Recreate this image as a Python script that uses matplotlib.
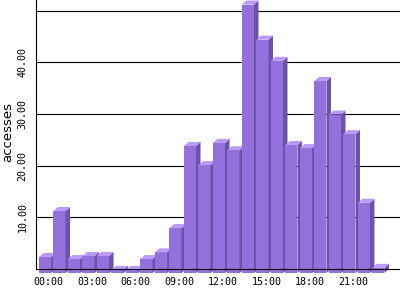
"""Hourly accesses bar chart with a flat 3D look."""

import matplotlib

matplotlib.use("Agg")
from matplotlib import pyplot as plt
from matplotlib.patches import Polygon

hours = [f"{h:02d}:00" for h in range(24)]
accesses = [3.1, 12.0, 2.7, 3.3, 3.3, 0.6, 0.6, 2.7, 4.0, 8.7, 24.6, 20.9,
            25.2, 23.8, 52.0, 45.2, 41.1, 24.8, 24.2, 37.2, 30.7, 26.9, 13.6, 1.0]
ytick_values = [10, 20, 30, 40, 50]
ytick_labels = ["10.00", "20.00", "30.00", "40.00", ""]

FRONT = "#9370db"
TOP = "#bb99fa"
SIDE = "#6a53a8"


def _main() -> None:
    fig = plt.figure(figsize=(4, 3), dpi=100)
    ax = fig.add_axes([36 / 400, 31 / 300, 364 / 400, 269 / 300])
    ax.set_xlim(-0.207, 24.9)
    ax.set_ylim(0, 52.1)

    width = 0.83
    dx = 0.31
    dy = 0.78
    for i, val in enumerate(accesses):
        ax.bar(i, val, width=width, bottom=-dy, align="edge", color=FRONT,
               linewidth=0, clip_on=False, zorder=1)
        side = Polygon([(i + width, -dy), (i + width + dx, 0),
                        (i + width + dx, val), (i + width, val - dy)],
                       closed=True, facecolor=SIDE, linewidth=0,
                       clip_on=False, zorder=1)
        top = Polygon([(i, val - dy), (i + width, val - dy),
                       (i + width + dx, val), (i + dx, val)],
                      closed=True, facecolor=TOP, linewidth=0,
                      clip_on=False, zorder=1)
        ax.add_patch(side)
        ax.add_patch(top)

    ax.set_yticks(ytick_values)
    ax.set_yticklabels(ytick_labels, rotation=90, va="center",
                       family="DejaVu Sans Mono", fontsize=7.2)
    ax.set_xticks([i + 0.68 for i in range(0, 24, 3)])
    ax.set_xticklabels(hours[::3], family="DejaVu Sans Mono", fontsize=7.2)
    ax.tick_params(axis="both", length=0)
    ax.tick_params(axis="y", pad=6)
    ax.tick_params(axis="x", pad=6)
    ax.grid(axis="y", color="black", linewidth=0.8, zorder=0)
    ax.set_axisbelow(True)
    for name in ["top", "right"]:
        ax.spines[name].set_visible(False)
    for name in ["left", "bottom"]:
        ax.spines[name].set_linewidth(0.8)
        ax.spines[name].set_zorder(3)
    ax.set_ylabel("accesses", fontsize=9.5)
    ax.yaxis.set_label_coords(-0.06, 0.51)
    fig.savefig("out.png", dpi=100)


if __name__ == "__main__":
    _main()
